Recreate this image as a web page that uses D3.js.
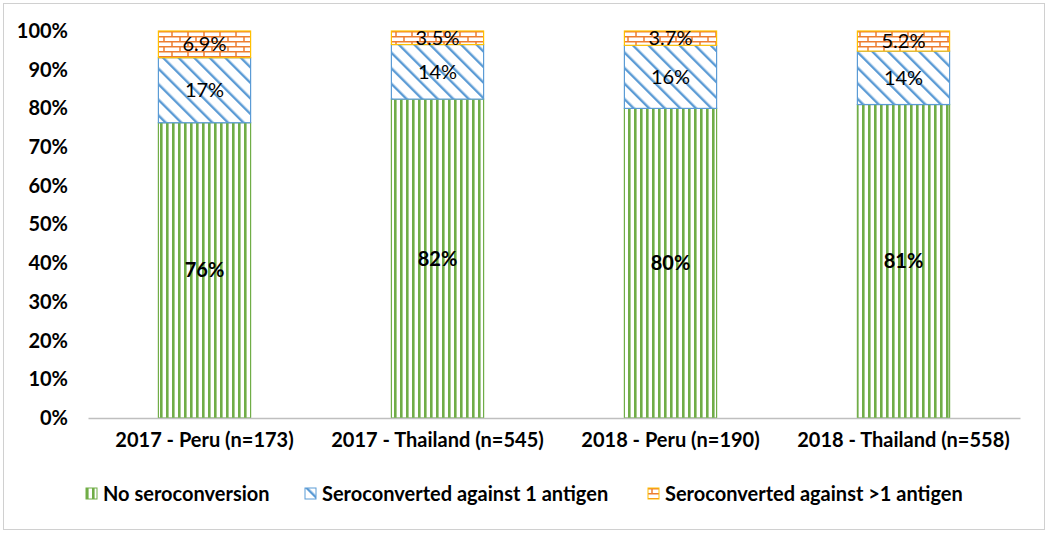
<!DOCTYPE html>
<html>
<head>
<meta charset="utf-8">
<script src="https://cdn.jsdelivr.net/npm/d3@7"></script>
<style>
  body { margin: 0; background: #fff; }
  text { font-family: Lato, "Open Sans", sans-serif; }
</style>
</head>
<body>
<svg width="1050" height="534"></svg>
<script>
// data (percent of each group)
var groups = ["2017 - Peru (n=173)", "2017 - Thailand (n=545)", "2018 - Peru (n=190)", "2018 - Thailand (n=558)"];
var seriesNames = ["No seroconversion", "Seroconverted against 1 antigen", "Seroconverted against >1 antigen"];
var noSero = [76.3, 82.4, 80.0, 81.0];
var oneAntigen = [16.8, 14.1, 16.3, 13.8];
var moreAntigen = [6.9, 3.5, 3.7, 5.2];
var yTicks = [0, 10, 20, 30, 40, 50, 60, 70, 80, 90, 100];

var svg = d3.select("svg"),
    margin = {top: 31, right: 30, bottom: 116, left: 88},
    width = +svg.attr("width") - margin.left - margin.right,
    height = +svg.attr("height") - margin.top - margin.bottom;

var fontSize = 20;

// outer frame
svg.append("rect")
    .attr("x", 3.5).attr("y", 3.5)
    .attr("width", 1041).attr("height", 526)
    .attr("fill", "none").attr("stroke", "#d0d0d0");

// patterns
var defs = svg.append("defs");

var pGreen = defs.append("pattern").attr("id", "pGreen")
    .attr("patternUnits", "userSpaceOnUse").attr("width", 6).attr("height", 6);
pGreen.append("rect").attr("width", 6).attr("height", 6).attr("fill", "#fff");
pGreen.append("rect").attr("x", 0).attr("width", 2.6).attr("height", 6).attr("fill", "#70ad47");

var pBlue = defs.append("pattern").attr("id", "pBlue")
    .attr("patternUnits", "userSpaceOnUse").attr("width", 11).attr("height", 11)
    .attr("patternTransform", "rotate(-45)");
pBlue.append("rect").attr("width", 11).attr("height", 11).attr("fill", "#fff");
pBlue.append("rect").attr("x", 0).attr("width", 2.4).attr("height", 11).attr("fill", "#5b9bd5");

var pOrange = defs.append("pattern").attr("id", "pOrange")
    .attr("patternUnits", "userSpaceOnUse").attr("width", 16).attr("height", 10);
pOrange.append("rect").attr("width", 16).attr("height", 10).attr("fill", "#fff");
pOrange.append("path")
    .attr("d", "M0,0.75H16M0,5.75H16M4,0V5M12,5V10")
    .attr("stroke", "#ed7d31").attr("stroke-width", 1.5).attr("fill", "none");

var fills = ["url(#pGreen)", "url(#pBlue)", "url(#pOrange)"];
var strokes = ["#70ad47", "#5b9bd5", "#ffc000"];

var g = svg.append("g").attr("transform", "translate(" + margin.left + "," + margin.top + ")");

var x = d3.scaleBand().domain(groups).range([0, width]).paddingInner(0.6).paddingOuter(0.3);
var y = d3.scaleLinear().domain([0, 100]).range([height, 0]);

var data = groups.map(function(gName, i) {
  return {group: gName, s0: noSero[i], s1: oneAntigen[i], s2: moreAntigen[i]};
});
var stack = d3.stack().keys(["s0", "s1", "s2"])(data);

var fmt = d3.format(".2r");

var layers = g.selectAll(".layer")
  .data(stack)
  .enter().append("g")
    .attr("class", "layer");

layers.selectAll("rect")
  .data(function(d) { return d.map(function(p) { return {p: p, k: d.index}; }); })
  .enter().append("rect")
    .attr("x", function(d) { return x(d.p.data.group) + 0.5; })
    .attr("y", function(d) { return y(d.p[1]); })
    .attr("width", x.bandwidth() - 1)
    .attr("height", function(d) { return y(d.p[0]) - y(d.p[1]); })
    .attr("fill", function(d) { return fills[d.k]; })
    .attr("stroke", function(d) { return strokes[d.k]; })
    .attr("stroke-width", 1.2);

// value labels
layers.selectAll("text")
  .data(function(d) { return d.map(function(p) { return {p: p, k: d.index}; }); })
  .enter().append("text")
    .attr("x", function(d) { return x(d.p.data.group) + x.bandwidth() / 2; })
    .attr("y", function(d) { return y((d.p[0] + d.p[1]) / 2); })
    .attr("dy", "0.35em")
    .attr("text-anchor", "middle")
    .attr("font-size", fontSize)
    .attr("font-weight", function(d) { return d.k === 0 ? "bold" : "normal"; })
    .attr("fill", "#000")
    .text(function(d) { return fmt(d.p[1] - d.p[0]) + "%"; });

// y axis (labels only)
var yAxis = g.append("g")
    .call(d3.axisLeft(y).tickValues(yTicks).tickFormat(function(d) { return d + "%"; }).tickSize(0).tickPadding(20));
yAxis.select(".domain").remove();
yAxis.selectAll("text")
    .attr("font-size", fontSize).attr("font-weight", "bold").attr("fill", "#000")
    .style("font-family", "Lato, 'Open Sans', sans-serif");

// x axis
var xAxis = g.append("g")
    .attr("transform", "translate(0," + height + ")")
    .call(d3.axisBottom(x).tickSize(0).tickPadding(15));
xAxis.select(".domain").attr("stroke", "#bfbfbf").attr("stroke-width", 1.3);
xAxis.selectAll("text")
    .attr("font-size", fontSize).attr("font-weight", "bold").attr("fill", "#000")
    .style("font-family", "Lato, 'Open Sans', sans-serif");

// legend
var legendX = [86, 305, 648];
var legend = svg.append("g")
  .selectAll("g")
  .data(seriesNames)
  .enter().append("g")
    .attr("transform", function(d, i) { return "translate(" + legendX[i] + ",488)"; });

legend.append("rect")
    .attr("width", 11).attr("height", 11)
    .attr("fill", function(d, i) { return fills[i]; })
    .attr("stroke", function(d, i) { return strokes[i]; });

legend.append("text")
    .attr("x", 17)
    .attr("y", 5.5)
    .attr("dy", "0.35em")
    .attr("font-size", fontSize)
    .attr("font-weight", "bold")
    .attr("fill", "#000")
    .text(function(d) { return d; });
</script>
</body>
</html>
